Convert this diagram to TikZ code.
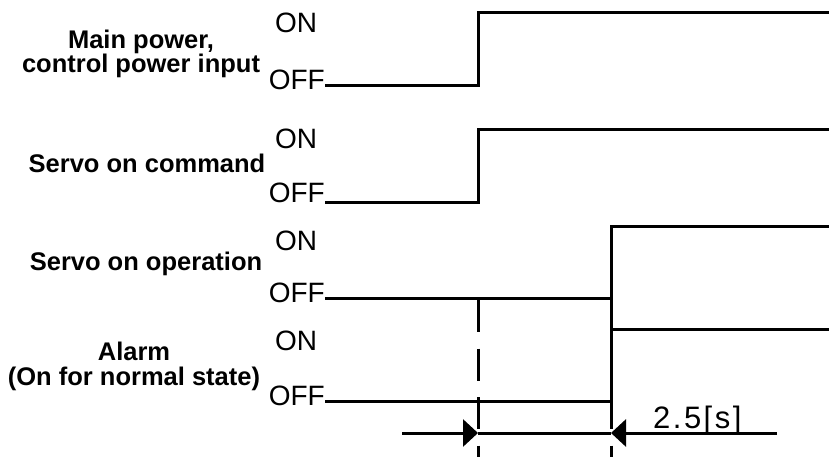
\documentclass[tikz,border=0pt]{standalone}
\usepackage{fontspec}
\setmainfont{Liberation Sans}
\usetikzlibrary{arrows.meta}
\begin{document}
\begin{tikzpicture}[x=1pt,y=-1pt,
  sig/.style={line width=3pt, line join=miter},
  lbl/.style={font=\fontsize{25.5}{21}\selectfont\bfseries, align=center, inner sep=0pt},
  st/.style={font=\fontsize{28}{28}\selectfont, inner sep=0pt},
  guide/.style={line width=3pt, dash pattern=on 32pt off 16.5pt},
  tipline/.style={line width=3pt, -{Triangle[length=15pt,width=27pt]}}]
\useasboundingbox (0,0) rectangle (829,457);
\fill[white] (0,0) rectangle (829,457);

% signal names
\node[lbl, anchor=base] (l1) at (141,73) {Main power,\\control power input};
\node[lbl, anchor=base] (l2) at (147,173) {Servo on command};
\node[lbl, anchor=base] (l3) at (146,270) {Servo on operation};
\node[lbl, anchor=base, font=\fontsize{25.5}{25}\selectfont\bfseries] (l4) at (134,385) {Alarm\\(On for normal state)};

% ON / OFF
\node[st, anchor=base west] (on1) at (275,33) {ON};
\node[st, anchor=base east] (off1) at (325,90) {OFF};
\node[st, anchor=base west] (on2) at (275,149) {ON};
\node[st, anchor=base east] (off2) at (325,202) {OFF};
\node[st, anchor=base west] (on3) at (275,250) {ON};
\node[st, anchor=base east] (off3) at (325,302) {OFF};
\node[st, anchor=base west] (on4) at (275,350) {ON};
\node[st, anchor=base east] (off4) at (325,405) {OFF};

% waveforms
\coordinate (s1a) at (325,86);  \coordinate (s1b) at (478,86);
\coordinate (s1c) at (478,13);  \coordinate (s1d) at (832,13);
\coordinate (s2a) at (325,202); \coordinate (s2b) at (478,202);
\coordinate (s2c) at (478,130); \coordinate (s2d) at (832,130);
\coordinate (s3a) at (325,298); \coordinate (s3b) at (611,298);
\coordinate (s3c) at (611,226); \coordinate (s3d) at (832,226);
\coordinate (s4a) at (325,401); \coordinate (s4b) at (611,401);
\coordinate (s4c) at (611,329); \coordinate (s4d) at (832,329);
\draw[sig] (s1a) -- (s1b) -- (s1c) -- (s1d);
\draw[sig] (s2a) -- (s2b) -- (s2c) -- (s2d);
\draw[sig] (s3a) -- (s3b) -- (s3c) -- (s3d);
\draw[sig] (s4a) -- (s4b) -- (s4c) -- (s4d);

% dashed guides
\coordinate (g1t) at (478,300); \coordinate (g1b) at (478,460);
\coordinate (g2t) at (611,300); \coordinate (g2b) at (611,460);
\draw[guide] (g1t) -- (g1b);
\draw[guide] (g2t) -- (g2b);

% dimension arrows
\coordinate (a1) at (402,433); \coordinate (t1) at (478,433);
\coordinate (t2) at (611,433); \coordinate (a2) at (777,433);
\draw[tipline] (a1) -- (t1);
\draw[line width=3pt] (t1) -- (t2);
\draw[tipline] (a2) -- (t2);
\node[anchor=base west, inner sep=0pt, font=\fontsize{31}{31}\selectfont\addfontfeature{LetterSpace=8}] (dur) at (653,428) {2.5[s]};
\end{tikzpicture}
\end{document}
